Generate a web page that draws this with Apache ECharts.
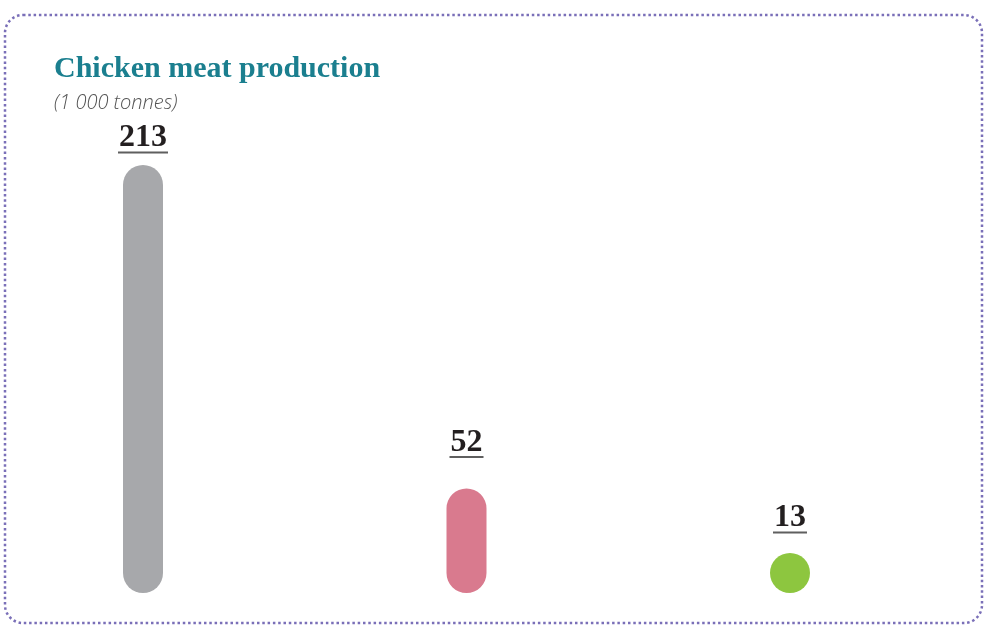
<!DOCTYPE html>
<html>
<head>
<meta charset="utf-8">
<script src="https://cdn.jsdelivr.net/npm/echarts@6/dist/echarts.min.js"></script>
<style>
  html, body { margin: 0; padding: 0; background: #ffffff; }
  #chart { width: 985px; height: 630px; }
</style>
</head>
<body>
<div id="chart"></div>
<script>
// Chicken meat production, thousand tonnes
const categories = ['A', 'B', 'C'];
const production = [213, 52, 13];
const barColors = ['#a7a8ab', '#d97a8e', '#8dc63f'];
// gap between each value label and the top of its bar
const labelGaps = [11, 30, 19];

const chart = echarts.init(document.getElementById('chart'), null, { renderer: 'canvas' });

const numFont = '"Liberation Serif", "DejaVu Serif", serif';

chart.setOption({
  animation: false,
  backgroundColor: '#ffffff',
  title: {
    text: 'Chicken meat production',
    subtext: '(1 000 tonnes)',
    left: 54,
    top: 54,
    padding: 0,
    itemGap: 9,
    textStyle: {
      fontFamily: numFont,
      fontWeight: 'bold',
      fontSize: 30,
      color: '#1b7f8f'
    },
    subtextStyle: {
      fontFamily: '"Open Sans", "Noto Sans", sans-serif',
      fontStyle: 'italic',
      fontWeight: 300,
      fontSize: 20,
      color: '#555555'
    }
  },
  // categories sit on the axis ends so the outer bars line up with the margins
  grid: { left: 143, right: 195, top: 165, bottom: 37 },
  xAxis: {
    type: 'category',
    data: categories,
    boundaryGap: false,
    show: false
  },
  yAxis: {
    type: 'value',
    min: 0,
    max: Math.max.apply(null, production),
    show: false
  },
  series: [{
    type: 'bar',
    clip: false,
    barWidth: 40,
    barMinHeight: 40,
    data: production.map((v, i) => ({
      value: v,
      itemStyle: { color: barColors[i], borderRadius: 20 },
      label: { distance: labelGaps[i] }
    })),
    label: {
      show: true,
      position: 'top',
      formatter: p => {
        const n = String(p.value).length;
        return '{v|' + p.value + '}\n{u' + n + '|}';
      },
      rich: {
        v: {
          fontFamily: numFont,
          fontWeight: 'bold',
          fontSize: 32,
          lineHeight: 26,
          color: '#231f20',
          align: 'center'
        },
        u2: { width: 34, height: 2, lineHeight: 3, backgroundColor: '#5f5f5f', align: 'center' },
        u3: { width: 50, height: 2, lineHeight: 3, backgroundColor: '#5f5f5f', align: 'center' }
      }
    }
  }],
  graphic: [{
    type: 'rect',
    silent: true,
    shape: { x: 5, y: 15, width: 977, height: 608, r: 18 },
    style: {
      fill: 'none',
      stroke: '#7a6fb8',
      lineWidth: 2.5,
      lineDash: [2.5, 2.8]
    }
  }]
});
</script>
</body>
</html>
